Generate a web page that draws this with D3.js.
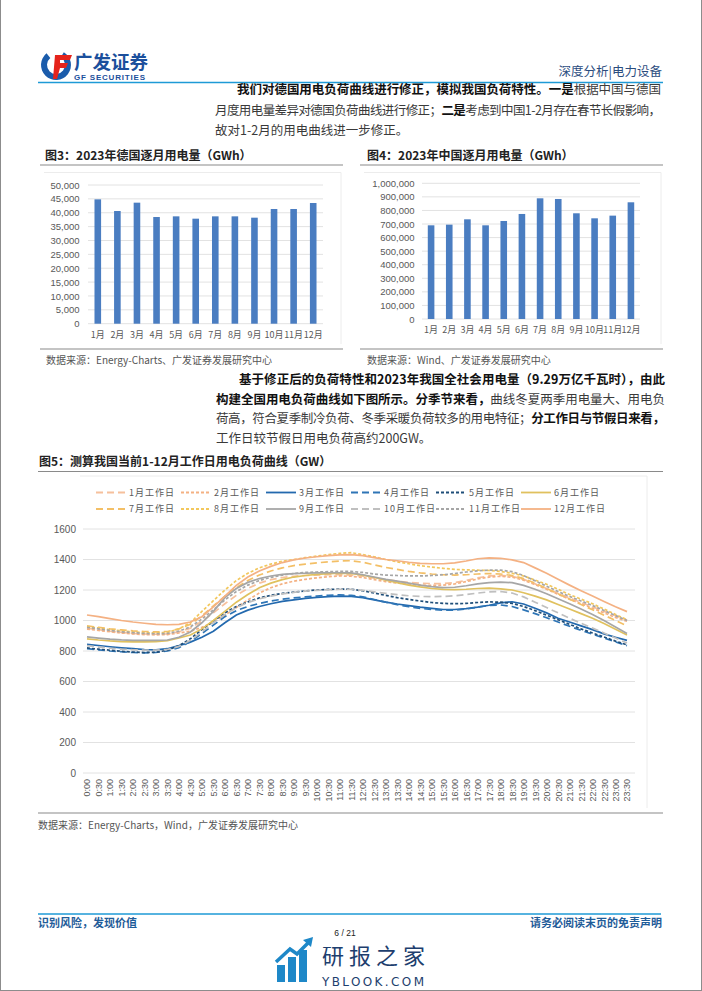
<!DOCTYPE html>
<html><head><meta charset="utf-8">
<script src="https://cdn.jsdelivr.net/npm/d3@7/dist/d3.min.js"></script>
<style>body{margin:0;background:#fff;}svg{display:block;}</style>
</head><body>
<svg id="page" width="702" height="991"></svg>
<script>
// ---------------- DATA ----------------
const months = ["1月","2月","3月","4月","5月","6月","7月","8月","9月","10月","11月","12月"];
const germanyMonthly = [44830, 40625, 43630, 38460, 38700, 37860, 38700, 38700, 38220, 41350, 41350, 43510];
const germanyTicks = [0,5000,10000,15000,20000,25000,30000,35000,40000,45000,50000];
const chinaMonthly = [690400, 695300, 734600, 690400, 722300, 774000, 889400, 884500, 779000, 742000, 761700, 860000];
const chinaTicks = [0,100000,200000,300000,400000,500000,600000,700000,800000,900000,1000000];

const timeLabels = ["0:00","0:30","1:00","1:30","2:00","2:30","3:00","3:30","4:00","4:30","5:00","5:30",
  "6:00","6:30","7:00","7:30","8:00","8:30","9:00","9:30","10:00","10:30","11:00","11:30",
  "12:00","12:30","13:00","13:30","14:00","14:30","15:00","15:30","16:00","16:30","17:00","17:30",
  "18:00","18:30","19:00","19:30","20:00","20:30","21:00","21:30","22:00","22:30","23:00","23:30"];
const loadTicks = [0,200,400,600,800,1000,1200,1400,1600];
const seriesNames = ["1月工作日","2月工作日","3月工作日","4月工作日","5月工作日","6月工作日",
  "7月工作日","8月工作日","9月工作日","10月工作日","11月工作日","12月工作日"];

const load01 = [950,940,930,922,916,912,910,912,925,950,995,1050,1110,1165,1210,1245,1268,1282,1290,1295,1298,1300,1300,1298,1290,1278,1268,1258,1250,1245,1242,1242,1248,1262,1280,1292,1296,1290,1270,1240,1210,1178,1148,1118,1090,1060,1032,1003];
const load02 = [944,935,926,918,912,908,906,908,918,930,955,990,1035,1085,1135,1180,1215,1240,1258,1270,1280,1287,1292,1290,1282,1268,1255,1245,1238,1232,1230,1232,1240,1255,1272,1285,1290,1284,1265,1235,1205,1172,1140,1110,1080,1050,1020,995];
const load03 = [844,836,828,821,815,810,808,815,835,858,890,930,985,1036,1068,1092,1110,1125,1135,1145,1152,1156,1160,1158,1150,1135,1120,1108,1098,1088,1080,1072,1072,1078,1088,1100,1115,1123,1108,1080,1050,1015,990,965,940,912,890,870];
const load04 = [815,808,800,795,790,788,790,800,822,862,915,970,1025,1065,1092,1112,1128,1140,1148,1155,1160,1165,1168,1165,1155,1138,1120,1104,1090,1080,1072,1068,1068,1075,1088,1098,1102,1092,1070,1045,1018,990,962,935,910,885,860,835];
const load05 = [820,812,805,798,793,790,792,805,835,880,940,995,1050,1092,1122,1148,1165,1178,1186,1194,1200,1204,1206,1205,1195,1180,1165,1150,1138,1128,1118,1112,1110,1112,1118,1122,1120,1112,1092,1065,1035,1005,975,945,918,892,865,840];
const load06 = [880,872,866,862,860,860,862,868,885,905,945,1000,1060,1120,1170,1215,1245,1268,1285,1295,1302,1308,1310,1308,1298,1282,1265,1248,1232,1220,1210,1204,1202,1205,1210,1212,1208,1200,1182,1160,1135,1105,1075,1045,1015,980,942,905];
const load07 = [965,955,945,938,932,928,925,928,945,975,1030,1095,1160,1215,1262,1298,1325,1345,1360,1370,1378,1385,1390,1392,1382,1365,1348,1335,1322,1312,1305,1300,1298,1300,1305,1308,1305,1295,1275,1245,1210,1175,1140,1105,1070,1035,1000,965];
const load08 = [960,950,940,932,925,920,918,922,945,985,1060,1130,1200,1262,1310,1345,1370,1388,1400,1412,1422,1432,1440,1445,1432,1418,1400,1385,1372,1360,1350,1342,1335,1332,1330,1328,1322,1310,1292,1265,1238,1205,1170,1140,1110,1075,1040,1005];
const load09 = [893,885,878,873,870,870,870,872,890,925,985,1060,1150,1210,1250,1275,1292,1302,1307,1310,1312,1313,1313,1312,1300,1285,1270,1258,1245,1232,1222,1215,1218,1228,1240,1248,1252,1248,1230,1205,1175,1142,1110,1075,1040,1000,958,915];
const load10 = [835,826,818,812,808,806,806,810,830,870,925,985,1040,1085,1118,1142,1160,1175,1185,1193,1198,1202,1205,1205,1198,1188,1178,1170,1162,1158,1156,1158,1162,1170,1180,1188,1190,1180,1155,1120,1085,1050,1015,982,950,918,885,852];
const load11 = [955,945,935,926,920,915,913,915,930,958,1010,1070,1135,1190,1232,1262,1283,1298,1308,1315,1318,1320,1322,1322,1315,1305,1298,1295,1292,1292,1295,1300,1308,1318,1326,1330,1330,1320,1295,1260,1225,1190,1158,1128,1098,1065,1032,1000];
const load12 = [1036,1025,1012,1000,990,982,975,972,975,990,1025,1090,1160,1230,1285,1325,1355,1380,1398,1410,1418,1425,1430,1432,1425,1412,1400,1392,1382,1375,1372,1372,1378,1390,1405,1410,1408,1398,1380,1345,1310,1270,1232,1195,1160,1125,1090,1058];

const loadSeries = [load01,load02,load03,load04,load05,load06,load07,load08,load09,load10,load11,load12];
const seriesColors = ["#F6C09C","#F4B183","#2369AE","#2E75B6","#1F4E79","#E0C15E","#F3BF66","#F2C75C","#A6A6A6","#BFBFBF","#A6A6A6","#F4B183"];
const seriesDash = ["7,4","3,2",null,"7,4","3,2",null,"7,4","3,2",null,"7,4","3,2",null];

// ---------------- DRAW ----------------
const svg = d3.select("#page");
const CJK = "'Noto Sans CJK SC','Noto Sans',sans-serif";
const LAT = "'Liberation Sans',Arial,sans-serif";

// page frame
svg.append("rect").attr("x",0.5).attr("y",-3).attr("width",701).attr("height",993.5)
  .attr("fill","none").attr("stroke","#8c8c8c").attr("stroke-width",1);

function fit(t, w){
  const n = t.text().length;
  const cur = t.node().getComputedTextLength();
  if (n > 1) t.attr("letter-spacing", (w - cur) / (n - 1));
}
function textLine(x, y, segs, opt){
  opt = opt || {};
  const t = svg.append("text").attr("x", x).attr("y", y)
    .attr("font-family", opt.family || CJK).attr("font-size", opt.size || 12.5)
    .attr("text-anchor", opt.anchor || "start");
  segs.forEach(([s, b]) => t.append("tspan").text(s)
    .attr("font-weight", b ? 700 : 400).attr("fill", opt.color || (b ? "#111" : "#3a3a3a")));
  if (opt.width) fit(t, opt.width);
  return t;
}

// ---- header / logo ----
const logo = svg.append("g");
logo.append("path").attr("d", d3.arc()({innerRadius:9, outerRadius:15, startAngle:0.55, endAngle:5.6}))
  .attr("transform","translate(56,65)").attr("fill","#1B5CAB");
logo.append("path").attr("d","M55,55 L72,55 L70,60 L60,60 L60,63 L68,63 L66,68 L60,68 L57,79 L53,79 Z").attr("fill","#E5231B");
textLine(74, 69, [["广发证券", true]], {size:18.5, color:"#1B4F9C", width:74});
textLine(74, 79.5, [["GF SECURITIES", true]], {family:LAT, size:8, color:"#1B4F9C", width:71});
textLine(662, 75.5, [["深度分析|电力设备", false]], {size:12.5, color:"#2B4C7E", anchor:"end"});
svg.append("line").attr("x1",38).attr("x2",663).attr("y1",82.5).attr("y2",82.5).attr("stroke","#1E9AD6").attr("stroke-width",1.6);

// ---- paragraph 1 ----
textLine(237, 94, [["我们对德国用电负荷曲线进行修正，模拟我国负荷特性。一是", true], ["根据中国与德国", false]], {width:424});
textLine(215, 114.5, [["月度用电量差异对德国负荷曲线进行修正；", false], ["二是", true], ["考虑到中国1-2月存在春节长假影响，", false]], {width:446});
textLine(215, 135, [["故对1-2月的用电曲线进一步修正。", false]]);

// ---- bar charts ----
function barChart(o){
  const g = svg.append("g");
  textLine(o.titleX, 160, [[o.title, true]], {size:12, color:"#222"});
  g.append("line").attr("x1",o.lineX0).attr("x2",o.lineX1).attr("y1",165).attr("y2",165).attr("stroke","#8a8a8a").attr("stroke-width",1.2);
  g.append("line").attr("x1",o.lineX0).attr("x2",o.lineX1).attr("y1",349).attr("y2",349).attr("stroke","#8a8a8a").attr("stroke-width",1.2);
  g.append("path").attr("d",`M${o.lineX0+4},172.5 H${o.lineX1-2} V344`).attr("fill","none").attr("stroke","#ececec");
  const x = d3.scaleBand().domain(months).range([o.x0, o.x1]);
  const y = d3.scaleLinear().domain([0, o.max]).range([o.yb, o.yt]);
  g.selectAll("line.grid").data(o.ticks).join("line").attr("class","grid")
    .attr("x1",o.x0).attr("x2",o.x1).attr("y1",d=>y(d)).attr("y2",d=>y(d)).attr("stroke","#e2e2e2");
  const ay = g.append("g").attr("transform",`translate(${o.labelX},0)`)
    .call(d3.axisLeft(y).tickValues(o.ticks).tickSize(0).tickPadding(0).tickFormat(d3.format(",")));
  ay.select(".domain").remove();
  ay.selectAll("text").attr("font-family",LAT).attr("font-size",9.5).attr("fill","#595959");
  g.selectAll("rect.bar").data(o.values).join("rect").attr("class","bar")
    .attr("x",(d,i)=>x(months[i]) + x.bandwidth()/2 - 3.3).attr("width",6.6)
    .attr("y",d=>y(d)).attr("height",d=>y(0)-y(d)).attr("fill","#4A7DC1");
  const ax = g.append("g").attr("transform",`translate(0,${o.xLabelY})`)
    .call(d3.axisBottom(x).tickSize(0).tickPadding(0));
  ax.select(".domain").remove();
  ax.selectAll("text").attr("y",0).attr("dy","0.35em").attr("font-family",CJK).attr("font-size",9).attr("fill","#595959");
  textLine(o.srcX, 364, [["数据来源：" + o.src, false]], {size:10, color:"#555"});
}
barChart({title:"图3：2023年德国逐月用电量（GWh）", titleX:45, lineX0:40, lineX1:343,
  x0:88, x1:323, yb:323.7, yt:185, max:50000, ticks:germanyTicks, values:germanyMonthly,
  labelX:79.5, xLabelY:335, srcX:46, src:"Energy-Charts、广发证券发展研究中心"});
barChart({title:"图4：2023年中国逐月用电量（GWh）", titleX:367, lineX0:360, lineX1:663,
  x0:422, x1:640, yb:319, yt:183.3, max:1000000, ticks:chinaTicks, values:chinaMonthly,
  labelX:414.5, xLabelY:329.5, srcX:367, src:"Wind、广发证券发展研究中心"});

// ---- paragraph 2 ----
textLine(239, 384, [["基于修正后的负荷特性和2023年我国全社会用电量（9.29万亿千瓦时），由此", true]], {width:426});
textLine(216, 403.5, [["构建全国用电负荷曲线如下图所示。分季节来看，", true], ["曲线冬夏两季用电量大、用电负", false]], {width:449});
textLine(216, 423, [["荷高，符合夏季制冷负荷、冬季采暖负荷较多的用电特征；", false], ["分工作日与节假日来看，", true]], {width:449});
textLine(216, 442.5, [["工作日较节假日用电负荷高约200GW。", false]]);

// ---- figure 5 ----
textLine(39, 466, [["图5：测算我国当前1-12月工作日用电负荷曲线（GW）", true]], {size:12, color:"#222"});
svg.append("line").attr("x1",38).attr("x2",663).attr("y1",471.5).attr("y2",471.5).attr("stroke","#8a8a8a").attr("stroke-width",1.2);
svg.append("line").attr("x1",38).attr("x2",663).attr("y1",813).attr("y2",813).attr("stroke","#8a8a8a").attr("stroke-width",1.2);
svg.append("path").attr("d","M80,476 H647 V808").attr("fill","none").attr("stroke","#ececec");

const xL = d3.scalePoint().domain(timeLabels).range([87, 627]);
const yL = d3.scaleLinear().domain([0, 1600]).range([773, 529]);
const g5 = svg.append("g");
g5.selectAll("line.grid").data(loadTicks).join("line").attr("class","grid")
  .attr("x1",83).attr("x2",635).attr("y1",d=>yL(d)).attr("y2",d=>yL(d)).attr("stroke","#e2e2e2");
const ay5 = g5.append("g").attr("transform","translate(76,0)")
  .call(d3.axisLeft(yL).tickValues(loadTicks).tickSize(0).tickPadding(0).tickFormat(d3.format("d")));
ay5.select(".domain").remove();
ay5.selectAll("text").attr("font-family",LAT).attr("font-size",10).attr("fill","#595959");
const ax5 = g5.append("g").attr("transform","translate(0,779)")
  .call(d3.axisBottom(xL).tickSize(0).tickPadding(0));
ax5.select(".domain").remove();
ax5.selectAll("text").attr("x",0).attr("y",0).attr("dy","0.33em").attr("transform","rotate(-90)")
  .attr("text-anchor","end").attr("font-family",LAT).attr("font-size",9).attr("fill","#595959");

const line = d3.line().x((d,i)=>xL(timeLabels[i])).y(d=>yL(d));
loadSeries.forEach((s, k) => {
  g5.append("path").datum(s).attr("d", line).attr("fill","none")
    .attr("stroke", seriesColors[k]).attr("stroke-width", 1.7)
    .attr("stroke-dasharray", seriesDash[k]);
});

// legend
seriesNames.forEach((name, k) => {
  const col = k % 6, row = Math.floor(k / 6);
  const lx = 96 + col * 85, ly = row === 0 ? 492.5 : 509;
  svg.append("line").attr("x1",lx).attr("x2",lx+30).attr("y1",ly).attr("y2",ly)
    .attr("stroke",seriesColors[k]).attr("stroke-width",1.8).attr("stroke-dasharray",seriesDash[k]);
  svg.append("text").attr("x",lx+33).attr("y",ly+3.3).attr("font-family",CJK).attr("font-size",9)
    .attr("letter-spacing",1).attr("fill","#595959").text(name);
});

textLine(38, 829, [["数据来源：Energy-Charts，Wind，广发证券发展研究中心", false]], {size:10, color:"#555"});

// ---- footer ----
svg.append("line").attr("x1",38).attr("x2",661).attr("y1",914).attr("y2",914).attr("stroke","#1E9AD6").attr("stroke-width",1.6);
textLine(38, 927, [["识别风险，发现价值", true]], {size:11, color:"#1F5C99"});
textLine(662, 927, [["请务必阅读末页的免责声明", true]], {size:11, color:"#1F5C99", anchor:"end"});
textLine(345, 936, [["6 / 21", false]], {family:LAT, size:8.5, color:"#222", anchor:"middle"});

// watermark
const wm = svg.append("g");
[[277,965,8,17],[288,957,8,25],[299,950,8,32]].forEach(([x,y,w,h]) =>
  wm.append("rect").attr("x",x).attr("y",y).attr("width",w).attr("height",h).attr("fill","#1E88C8"));
wm.append("path").attr("d","M276,962 L290,949 L297,954 L309,942").attr("fill","none").attr("stroke","#1E88C8").attr("stroke-width",3.5);
wm.append("path").attr("d","M303,940 L313,937 L311,947 Z").attr("fill","#1E88C8");
textLine(322, 964, [["研报之家", false]], {size:22, color:"#1D3E6E", width:103});
textLine(322, 986, [["YBLOOK.COM", false]], {family:"'DejaVu Sans',sans-serif", size:12, color:"#1D3E6E", width:102});
</script>
</body></html>
